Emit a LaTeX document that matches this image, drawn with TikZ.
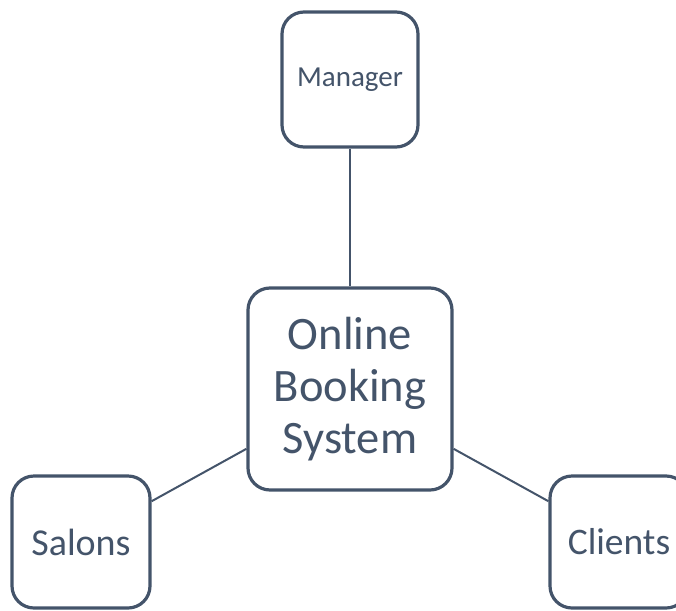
\documentclass[tikz,border=0pt]{standalone}
\usepackage{fontspec}
\setmainfont{Carlito}
\definecolor{slate}{HTML}{44546A}
\begin{document}
\begin{tikzpicture}[x=1pt,y=-1pt,
  box/.style={draw=slate,line width=3.2pt,rounded corners=22pt,fill=white,text=slate,align=center,inner sep=0pt},
  link/.style={draw=slate,line width=2pt}]
\useasboundingbox (0,0) rectangle (676,610);
\clip (0,0) rectangle (676,610);
\node[box,minimum width=136pt,minimum height=135pt,font=\fontsize{29}{33}\selectfont] (man) at (350,79.5) {Manager};
\node[box,minimum width=204pt,minimum height=202pt,font=\fontsize{46.5}{52}\selectfont] (ctr) at (350,389) {Online\\Booking\\System};
\node[box,minimum width=138pt,minimum height=132pt,font=\fontsize{38}{42}\selectfont] (sal) at (81,542) {Salons};
\node[box,minimum width=138pt,minimum height=132pt,font=\fontsize{37.5}{42}\selectfont] (cli) at (619,542) {Clients};
\draw[link] (man.south) -- (ctr.north);
\draw[link] (ctr.210) -- (sal.30);
\draw[link] (ctr.-30) -- (cli.150);
\end{tikzpicture}
\end{document}
